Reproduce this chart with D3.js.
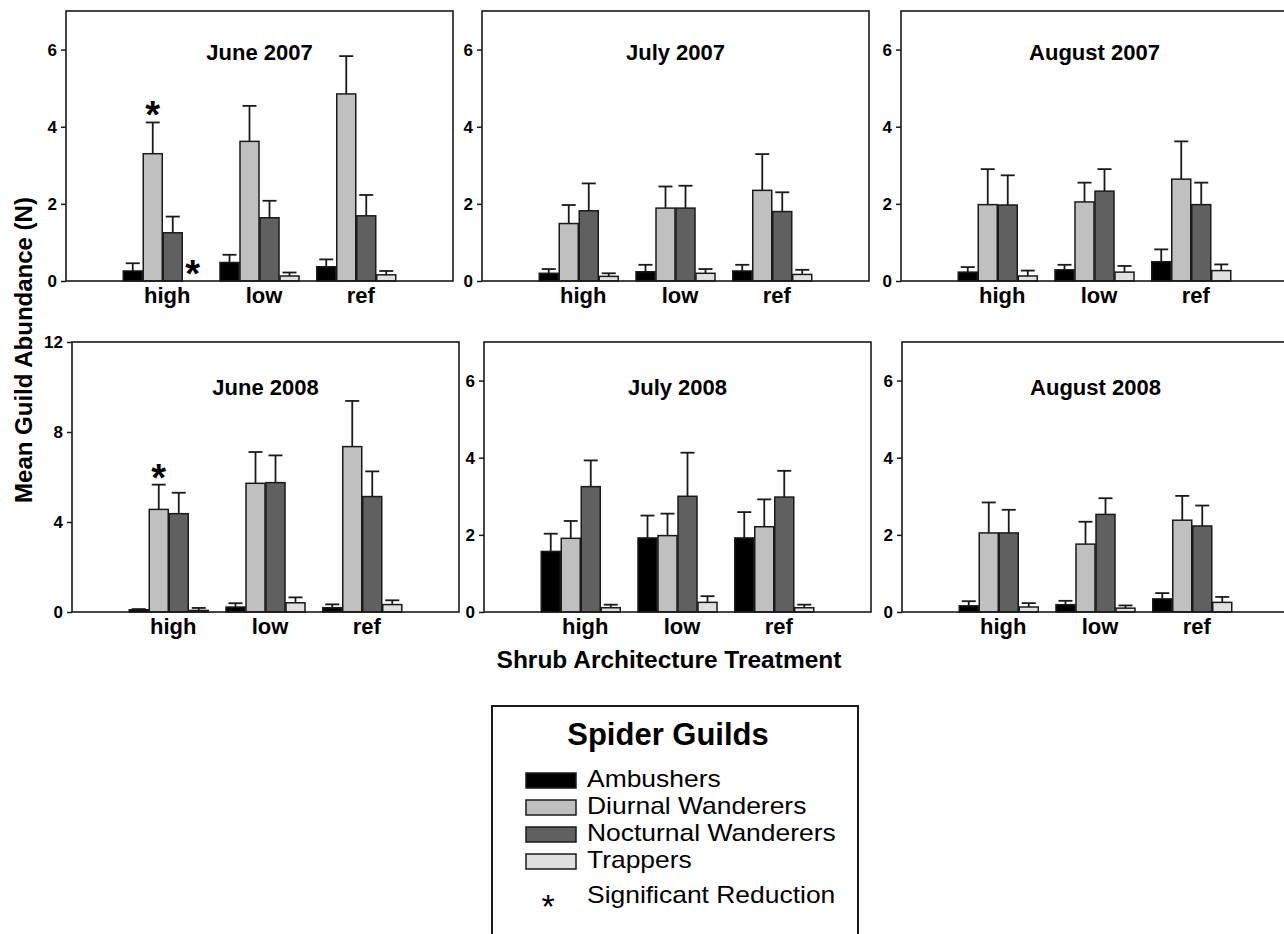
<!DOCTYPE html>
<html>
<head>
<meta charset="utf-8">
<script src="https://cdn.jsdelivr.net/npm/d3@7"></script>
<style>
  body { margin: 0; background: #fff; }
  svg { display: block; font-family: "Liberation Sans", Arial, sans-serif; }
  .tick text { font-weight: bold; }
</style>
</head>
<body>
<div id="chart"></div>
<script>
// panels, in reading order
const months = ['June 2007', 'July 2007', 'August 2007', 'June 2008', 'July 2008', 'August 2008'];
const treatments = ['high', 'low', 'ref'];
const guilds = ['Ambushers', 'Diurnal Wanderers', 'Nocturnal Wanderers', 'Trappers'];
const yMax = [7, 7, 7, 12, 7, 7];
const yTicks = [[0, 2, 4, 6], [0, 2, 4, 6], [0, 2, 4, 6], [0, 4, 8, 12], [0, 2, 4, 6], [0, 2, 4, 6]];

// mean abundance, one row per panel, columns high / low / ref
const meanAmbushers = [
    [0.26, 0.48, 0.37],
    [0.20, 0.24, 0.26],
    [0.23, 0.29, 0.50],
    [0.10, 0.22, 0.19],
    [1.57, 1.92, 1.92],
    [0.16, 0.19, 0.34]
];
const meanDiurnal = [
    [3.30, 3.62, 4.85],
    [1.49, 1.89, 2.35],
    [1.98, 2.05, 2.64],
    [4.56, 5.72, 7.35],
    [1.91, 1.98, 2.21],
    [2.05, 1.76, 2.38]
];
const meanNocturnal = [
    [1.25, 1.64, 1.69],
    [1.82, 1.89, 1.80],
    [1.97, 2.33, 1.98],
    [4.37, 5.75, 5.13],
    [3.25, 3.00, 2.98],
    [2.05, 2.53, 2.23]
];
const meanTrappers = [
    [0.00, 0.13, 0.16],
    [0.12, 0.20, 0.17],
    [0.13, 0.23, 0.27],
    [0.07, 0.41, 0.33],
    [0.11, 0.25, 0.11],
    [0.13, 0.10, 0.25]
];

// standard errors (upper bar only)
const seAmbushers = [
    [0.20, 0.20, 0.19],
    [0.11, 0.18, 0.16],
    [0.13, 0.13, 0.32],
    [0.03, 0.17, 0.15],
    [0.46, 0.58, 0.67],
    [0.12, 0.10, 0.15]
];
const seDiurnal = [
    [0.81, 0.92, 0.98],
    [0.48, 0.56, 0.94],
    [0.92, 0.50, 0.98],
    [1.10, 1.39, 2.03],
    [0.45, 0.57, 0.71],
    [0.79, 0.58, 0.63]
];
const seNocturnal = [
    [0.42, 0.44, 0.54],
    [0.71, 0.58, 0.50],
    [0.77, 0.57, 0.57],
    [0.93, 1.21, 1.12],
    [0.68, 1.13, 0.68],
    [0.60, 0.42, 0.53]
];
const seTrappers = [
    [0.00, 0.09, 0.10],
    [0.08, 0.11, 0.12],
    [0.14, 0.16, 0.16],
    [0.11, 0.24, 0.19],
    [0.08, 0.16, 0.08],
    [0.10, 0.07, 0.14]
];

// significant reductions: [panel, treatment, guild]
const significant = [
    [0, 'high', 'Diurnal Wanderers'],
    [0, 'high', 'Trappers'],
    [3, 'high', 'Diurnal Wanderers']
];

const means = [meanAmbushers, meanDiurnal, meanNocturnal, meanTrappers];
const errors = [seAmbushers, seDiurnal, seNocturnal, seTrappers];
const fills = ['#000000', '#c0c0c0', '#606060', '#e0e0e0'];
const color = d3.scaleOrdinal().domain(guilds).range(fills);

const width = 1284, height = 934;
const panelW = 387, panelH = 270;
const rowTop = [11, 342];
const colLeft = [[66, 482, 901], [72, 484, 902]];
const titleDy = [49, 53];

const svg = d3.select('#chart').append('svg')
    .attr('width', width)
    .attr('height', height);

svg.append('rect').attr('width', width).attr('height', height).attr('fill', '#fff');

months.forEach(function (month, p) {
    const row = Math.floor(p / 3), col = p % 3;
    const g = svg.append('g')
        .attr('transform', 'translate(' + colLeft[row][col] + ',' + rowTop[row] + ')');

    const x = d3.scalePoint().domain(treatments).range([0, panelW]).padding(1);
    const xInner = d3.scaleBand().domain(guilds).range([-39.5, 39.5]).paddingInner(0.05);
    const y = d3.scaleLinear().domain([0, yMax[p]]).range([panelH, 0]);

    const rows = [];
    treatments.forEach(function (t, ti) {
        guilds.forEach(function (gd, gi) {
            rows.push({ t: t, guild: gd, mean: means[gi][p][ti], se: errors[gi][p][ti] });
        });
    });
    const shown = rows.filter(d => d.mean > 0);
    const cx = d => x(d.t) + xInner(d.guild) + xInner.bandwidth() / 2;

    // error bars first so the bar outline sits on top
    const err = g.append('g').attr('stroke', '#1a1a1a').attr('stroke-width', 1.8);
    err.selectAll('line.v').data(shown).enter().append('line')
        .attr('x1', cx).attr('x2', cx)
        .attr('y1', d => y(d.mean))
        .attr('y2', d => y(d.mean + d.se));
    err.selectAll('line.c').data(shown).enter().append('line')
        .attr('x1', d => cx(d) - 7)
        .attr('x2', d => cx(d) + 7)
        .attr('y1', d => y(d.mean + d.se))
        .attr('y2', d => y(d.mean + d.se));

    g.selectAll('rect.bar').data(shown).enter().append('rect')
        .attr('class', 'bar')
        .attr('x', d => x(d.t) + xInner(d.guild))
        .attr('y', d => y(d.mean))
        .attr('width', xInner.bandwidth())
        .attr('height', d => y(0) - y(d.mean))
        .attr('fill', d => color(d.guild))
        .attr('stroke', '#1a1a1a')
        .attr('stroke-width', 1.5);

    // asterisks
    const marks = significant.filter(s => s[0] === p).map(function (s) {
        return rows.find(d => d.t === s[1] && d.guild === s[2]);
    });
    g.selectAll('text.sig').data(marks).enter().append('text')
        .attr('x', cx)
        .attr('y', d => y(d.mean + d.se) + 6)
        .attr('text-anchor', 'middle')
        .style('font-size', '38px')
        .style('font-weight', 'bold')
        .text('*');

    // frame
    g.append('rect')
        .attr('width', panelW).attr('height', panelH)
        .attr('fill', 'none').attr('stroke', '#1a1a1a').attr('stroke-width', 1.6);

    // axes
    const yAxis = g.append('g')
        .call(d3.axisLeft(y).tickValues(yTicks[p]).tickSize(5).tickPadding(4).tickFormat(d3.format('d')));
    yAxis.select('.domain').remove();
    yAxis.selectAll('.tick line').attr('stroke', '#1a1a1a').attr('stroke-width', 1.5);
    yAxis.selectAll('.tick text').style('font-size', '17px').attr('fill', '#000');

    const xAxis = g.append('g')
        .attr('transform', 'translate(0,' + panelH + ')')
        .call(d3.axisBottom(x).tickSize(0).tickPadding(6));
    xAxis.select('.domain').remove();
    xAxis.selectAll('.tick text').attr('dx', 4).style('font-size', '22px').attr('fill', '#000');

    g.append('text')
        .attr('x', panelW / 2)
        .attr('y', titleDy[row])
        .attr('text-anchor', 'middle')
        .style('font-size', '22px')
        .style('font-weight', 'bold')
        .text(month);
});

// axis titles
svg.append('text')
    .attr('transform', 'translate(32,350) rotate(-90)')
    .attr('text-anchor', 'middle')
    .style('font-size', '24px')
    .style('font-weight', 'bold')
    .text('Mean Guild Abundance (N)');

svg.append('text')
    .attr('x', 669).attr('y', 668)
    .attr('text-anchor', 'middle')
    .style('font-size', '24.5px')
    .style('font-weight', 'bold')
    .text('Shrub Architecture Treatment');

// legend
const legend = svg.append('g').attr('transform', 'translate(492,706)');
legend.append('rect')
    .attr('width', 366).attr('height', 260)
    .attr('fill', '#fff').attr('stroke', '#1a1a1a').attr('stroke-width', 2);
legend.append('text')
    .attr('x', 176).attr('y', 39)
    .attr('text-anchor', 'middle')
    .style('font-size', '31px')
    .style('font-weight', 'bold')
    .text('Spider Guilds');

// legend labels are set a little wide, like the original
const ly = d3.scalePoint().domain(guilds.concat(['Significant Reduction'])).range([81, 189]);
const items = legend.selectAll('g.item').data(guilds).enter().append('g').attr('class', 'item')
    .attr('transform', d => 'translate(0,' + ly(d) + ')');
items.append('rect')
    .attr('x', 34).attr('y', -14).attr('width', 50).attr('height', 15)
    .attr('fill', d => color(d)).attr('stroke', '#1a1a1a').attr('stroke-width', 1.5);
items.append('text')
    .attr('transform', 'translate(95,0) scale(1.15,1)')
    .style('font-size', '23px')
    .text(d => d);

const sigItem = legend.append('g').attr('transform', 'translate(0,' + (ly('Significant Reduction') + 8) + ')');
sigItem.append('text')
    .attr('x', 56).attr('y', 15)
    .attr('text-anchor', 'middle')
    .style('font-size', '34px')
    .text('*');
sigItem.append('text')
    .attr('transform', 'translate(95,0) scale(1.15,1)')
    .style('font-size', '23px')
    .text('Significant Reduction');
</script>
</body>
</html>
